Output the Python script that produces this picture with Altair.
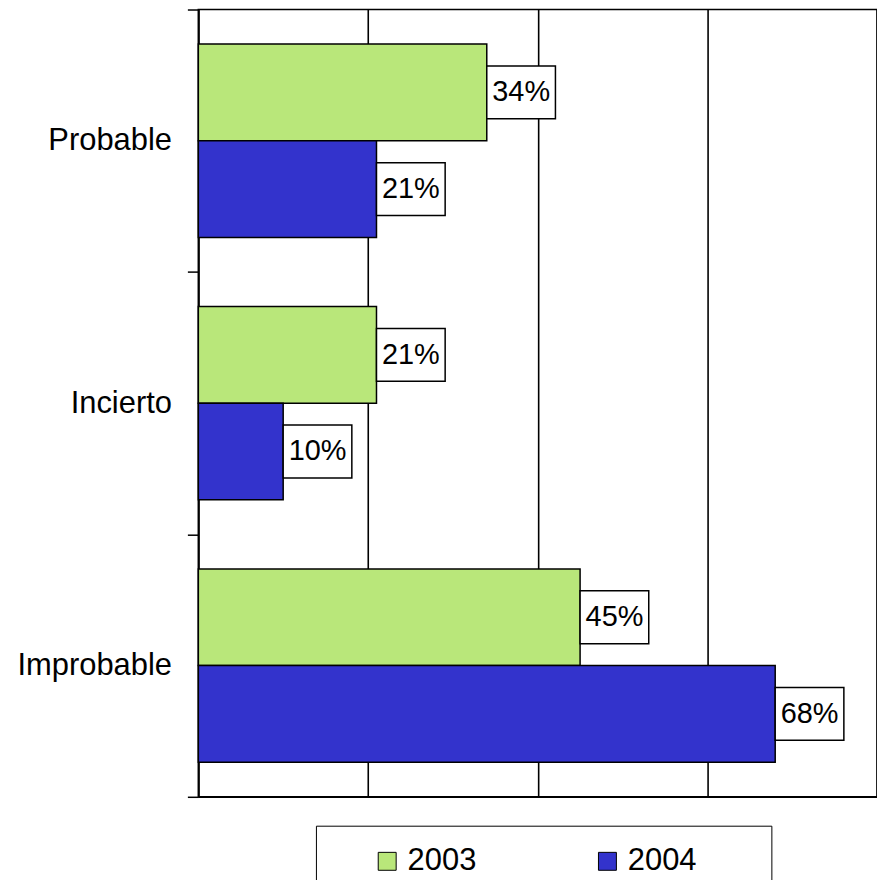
import altair as alt
import pandas as pd

categories = ["Probable", "Incierto", "Improbable"]
years = ["2003", "2004"]
values_2003 = [34, 21, 45]
values_2004 = [21, 10, 68]
x_ticks = [0, 20, 40, 60, 80]

rows = []
for i, c in enumerate(categories):
    rows.append({"categoria": c, "anio": "2003", "valor": values_2003[i]})
    rows.append({"categoria": c, "anio": "2004", "valor": values_2004[i]})
df = pd.DataFrame(rows)
df["etiqueta"] = df["valor"].astype(str) + "%"

FONT = "Liberation Sans"
color_scale = alt.Scale(domain=years, range=["#b9e77a", "#3333cc"])

y_enc = alt.Y(
    "categoria:N",
    sort=categories,
    scale=alt.Scale(paddingInner=0, paddingOuter=0),
    axis=alt.Axis(
        title=None, tickBand="extent", tickSize=11, tickColor="black", tickWidth=1.5,
        domainColor="black", domainWidth=1.5, labelFontSize=31, labelPadding=16,
        labelColor="black", labelFont=FONT, grid=False,
    ),
)
yoff = alt.YOffset("anio:N", sort=years, scale=alt.Scale(paddingInner=0, paddingOuter=0.357))
x_enc = alt.X(
    "valor:Q",
    scale=alt.Scale(domain=[0, 80], nice=False),
    axis=alt.Axis(
        title=None, values=x_ticks, labels=False, ticks=False, grid=True,
        gridColor="black", gridWidth=1.6, gridOpacity=1,
        domainColor="black", domainWidth=1.6,
    ),
)

bars = alt.Chart(df).mark_bar(stroke="black", strokeWidth=1.5).encode(
    x=x_enc,
    y=y_enc,
    yOffset=yoff,
    color=alt.Color(
        "anio:N",
        scale=color_scale,
        legend=alt.Legend(
            orient="none", legendX=118, legendY=819, direction="horizontal",
            title=" ", titleOrient="right", titlePadding=55, titleFontSize=10,
            padding=20, strokeColor="black", fillColor="white",
            symbolType="square", symbolSize=324, symbolStrokeColor="black",
            symbolStrokeWidth=1, symbolOpacity=1,
            labelFontSize=31, labelFont=FONT, labelColor="black", labelOffset=5,
            columnPadding=80, symbolOffset=36,
        ),
    ),
)

boxes = alt.Chart(df).mark_point(
    shape="M0,-1H2.6V1H0Z", size=2809, filled=True, fill="white",
    stroke="black", strokeWidth=1.5, opacity=1, fillOpacity=1, strokeOpacity=1,
).encode(x=x_enc, y=y_enc, yOffset=yoff)

texts = alt.Chart(df).mark_text(
    dx=34.5, align="center", baseline="middle", fontSize=29, font=FONT, color="black"
).encode(x=x_enc, y=y_enc, yOffset=yoff, text="etiqueta:N")

chart = alt.layer(bars, boxes, texts).properties(
    width=681,
    height=790,
    padding={"left": 191, "top": 0, "right": 0, "bottom": 90},
    autosize=alt.AutoSizeParams(type="none"),
    background="white",
).configure_view(stroke="black", strokeWidth=1.6)

chart.save("out.html", embed_options={"renderer": "svg", "actions": False})
